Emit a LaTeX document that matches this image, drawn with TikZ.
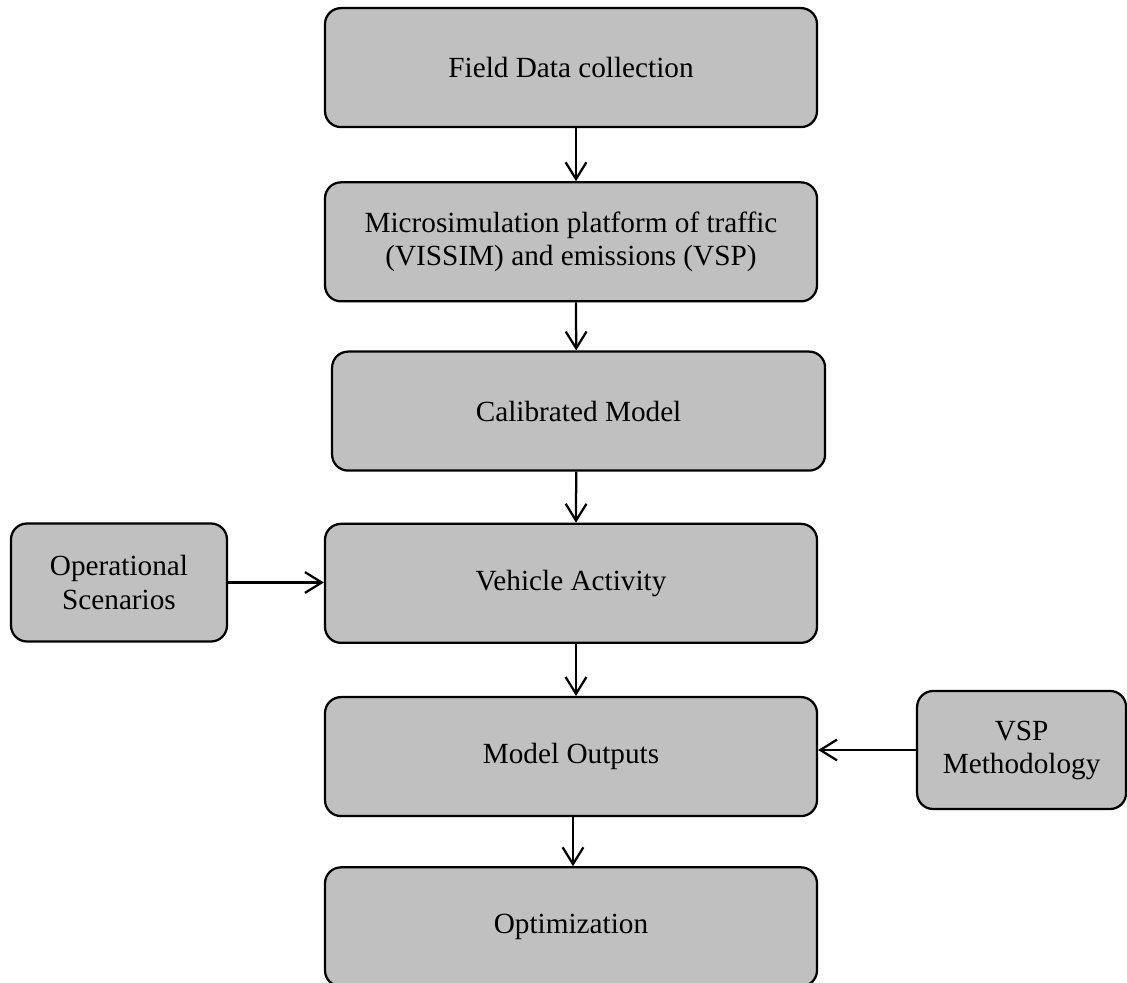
\documentclass[tikz,border=0pt]{standalone}
\usepackage{fontspec}
\setmainfont{Liberation Serif}
\usepackage{xcolor}
\usetikzlibrary{positioning,arrows.meta}
\definecolor{boxgray}{RGB}{192,192,192}

\begin{document}
\begin{tikzpicture}[
  stage/.style={draw, fill=boxgray, rounded corners=0.4cm, line width=1.6pt,
    minimum width=12.3cm, minimum height=2.975cm, align=center,
    font=\fontsize{20.8}{23.5}\selectfont},
  side/.style={stage, minimum width=5.4cm, minimum height=2.95cm},
  arr/.style={-{Straight Barb[length=0.42cm, width=0.52cm, line width=1.6pt]}, line width=1.6pt},
]
\useasboundingbox (0,0) rectangle (28.175,-24.575);
\node[stage] (fd) at (14.275,-1.69) {Field Data collection};
\node[stage, below=1.325cm of fd] (ms) {Microsimulation platform of traffic\\(VISSIM) and emissions (VSP)};
\node[stage, below=1.2cm of ms, xshift=0.19cm, minimum width=12.325cm] (cm) {Calibrated Model};
\node[stage, below=1.275cm of cm, xshift=-0.19cm] (va) {Vehicle Activity};
\node[stage, below=1.3cm of va] (mo) {Model Outputs};
\node[stage, below=1.225cm of mo] (opt) {Optimization};
\node[side] (os) at (2.975,-14.5625) {Operational\\Scenarios};
\node[side, minimum width=5.225cm] (vsp) at (25.54,-18.75) {VSP\\Methodology};
\draw[arr] ([xshift=0.125cm]fd.south) -- ([xshift=0.125cm]ms.north);
\draw[arr] ([xshift=0.125cm]ms.south) -- ([xshift=-0.06cm]cm.north);
\draw[arr] ([xshift=-0.06cm]cm.south) -- ([xshift=0.125cm]va.north);
\draw[arr] ([xshift=0.125cm]va.south) -- ([xshift=0.125cm]mo.north);
\draw[arr] ([xshift=0.05cm]mo.south) -- ([xshift=0.05cm]opt.north);
\draw[arr] (os.east) -- (os.east -| va.west);
\draw[arr] (vsp.west) -- (vsp.west -| mo.east);
\end{tikzpicture}
\end{document}
